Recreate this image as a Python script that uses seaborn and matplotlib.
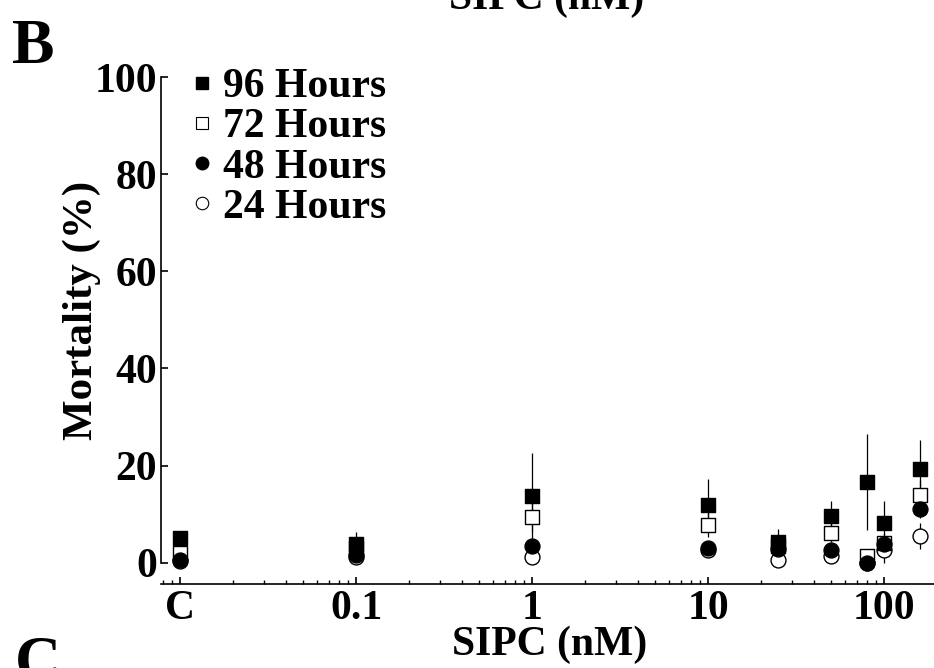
import numpy as np
import pandas as pd
import matplotlib
matplotlib.use("Agg")
import matplotlib.pyplot as plt
import seaborn as sns
from matplotlib.lines import Line2D
from matplotlib.ticker import LogLocator, NullFormatter, FixedLocator, FixedFormatter

# ---------------- data ----------------
conc = [0.01, 0.1, 1, 10, 25, 50, 80, 100, 160]   # 0.01 = control "C"
m96 = [5.0, 3.8, 13.8, 11.9, 4.3, 9.6, 16.6, 8.2, 19.3]
e96 = [1.5, 2.5, 8.8, 5.3, 2.7, 3.1, 9.9, 4.5, 6.0]
m72 = [2.0, 3.0, 9.4, 7.8, 3.5, 6.2, 1.4, 4.1, 14.0]
e72 = [1.0, 1.5, 3.0, 2.5, 1.5, 2.0, 1.0, 2.0, 3.0]
m48 = [0.5, 1.5, 3.5, 3.1, 2.8, 2.5, 0.0, 3.9, 11.1]
e48 = [0.5, 1.0, 1.5, 1.0, 1.0, 1.0, 0.0, 1.5, 2.0]
m24 = [0.3, 1.2, 1.2, 2.5, 0.5, 1.4, 0.0, 2.6, 5.5]
e24 = [0.5, 1.0, 1.0, 1.0, 0.5, 1.0, 0.0, 2.6, 2.6]

xtick_pos = [0.01, 0.1, 1, 10, 100]
xtick_labels = ["C", "0.1", "1", "10", "100"]
ytick_pos = [0, 20, 40, 60, 80, 100]

series = [
    ("24 Hours", m24, e24, "o", "white"),
    ("72 Hours", m72, e72, "s", "white"),
    ("48 Hours", m48, e48, "o", "black"),
    ("96 Hours", m96, e96, "s", "black"),
]

# ---------------- style ----------------
sns.set_theme(style="white")
plt.rcParams["font.family"] = ["Liberation Serif", "DejaVu Serif"]
plt.rcParams["font.weight"] = "bold"
for k in ["text.color", "axes.labelcolor", "xtick.color", "ytick.color",
          "xtick.labelcolor", "ytick.labelcolor"]:
    plt.rcParams[k] = "black"

W, H = 934, 668
fig = plt.figure(figsize=(W / 100, H / 100), dpi=100)
fig.patch.set_facecolor("white")

ax_left = 161 / W
ax_bottom = (H - 583.5) / H
ax_top = (H - 57.6) / H
ax = fig.add_axes([ax_left, ax_bottom, 1 - ax_left, ax_top - ax_bottom])
ax.set_facecolor("white")

for name, m, e, mk, fc in series:
    df = pd.DataFrame({"conc": conc, "mort": m, "err": e})
    ax.errorbar(df["conc"], df["mort"], yerr=df["err"], fmt="none",
                ecolor="black", elinewidth=0.9, capsize=0, zorder=2)
for name, m, e, mk, fc in series:
    df = pd.DataFrame({"conc": conc, "mort": m})
    sns.scatterplot(data=df, x="conc", y="mort", marker=mk, s=115,
                    facecolor=fc, edgecolor="black", linewidth=1.0,
                    ax=ax, zorder=3, legend=False)

ax.set_xscale("log")
ax.set_xlim(0.0078, 192)
ax.set_ylim(-4.3, 104)

ax.xaxis.set_major_locator(FixedLocator(xtick_pos))
ax.xaxis.set_major_formatter(FixedFormatter(xtick_labels))
ax.xaxis.set_minor_locator(LogLocator(base=10, subs=np.arange(2, 10)))
ax.xaxis.set_minor_formatter(NullFormatter())
ax.set_yticks(ytick_pos)
ax.set_yticklabels([str(v) for v in ytick_pos])

for s in ["top", "right"]:
    ax.spines[s].set_visible(False)
ax.spines["left"].set_bounds(0, 100)
for s in ["left", "bottom"]:
    ax.spines[s].set_color("black")
    ax.spines[s].set_linewidth(1.2)

ax.tick_params(axis="both", which="major", direction="in", length=5,
               width=1.2, color="black", labelsize=30, labelcolor="black")
ax.tick_params(axis="x", which="minor", direction="in", length=3,
               width=1.0, color="black", bottom=True)
ax.tick_params(axis="x", which="both", bottom=True, pad=4.5)
ax.tick_params(axis="y", which="major", left=True, pad=3)
for lab in ax.get_xticklabels() + ax.get_yticklabels():
    lab.set_fontweight("bold")

ax.set_xlabel("")
ax.set_ylabel("")

fig.text(81.5 / W, (H - 310) / H, "Mortality (%)", rotation=90, ha="center",
         va="center", fontsize=31, fontweight="bold")
fig.text(550 / W, (H - 655) / H, "SIPC (nM)", ha="center", va="baseline",
         fontsize=30, fontweight="bold")

# panel letters and clipped neighbouring labels
fig.text(12 / W, (H - 63) / H, "B", ha="left", va="baseline",
         fontsize=46, fontweight="bold")
fig.text(15 / W, (H - 679) / H, "C", ha="left", va="baseline",
         fontsize=46, fontweight="bold")
fig.text(547 / W, (H - 9) / H, "SIPC (nM)", ha="center", va="baseline",
         fontsize=30, fontweight="bold")

handles = [
    Line2D([], [], marker="s", linestyle="none", markersize=9,
           markerfacecolor="black", markeredgecolor="black"),
    Line2D([], [], marker="s", linestyle="none", markersize=9,
           markerfacecolor="white", markeredgecolor="black", markeredgewidth=0.8),
    Line2D([], [], marker="o", linestyle="none", markersize=9,
           markerfacecolor="black", markeredgecolor="black"),
    Line2D([], [], marker="o", linestyle="none", markersize=9,
           markerfacecolor="white", markeredgecolor="black", markeredgewidth=0.8),
]
labels = ["96 Hours", "72 Hours", "48 Hours", "24 Hours"]
leg = fig.legend(handles, labels, loc="upper left",
                 bbox_to_anchor=(191.6 / W, (H - 68) / H), frameon=False,
                 prop={"size": 30, "weight": "bold"}, handlelength=0.5,
                 handletextpad=0.25, labelspacing=0.05, borderpad=0.0,
                 borderaxespad=0.0)

fig.savefig("out.png", dpi=100, facecolor="white")
